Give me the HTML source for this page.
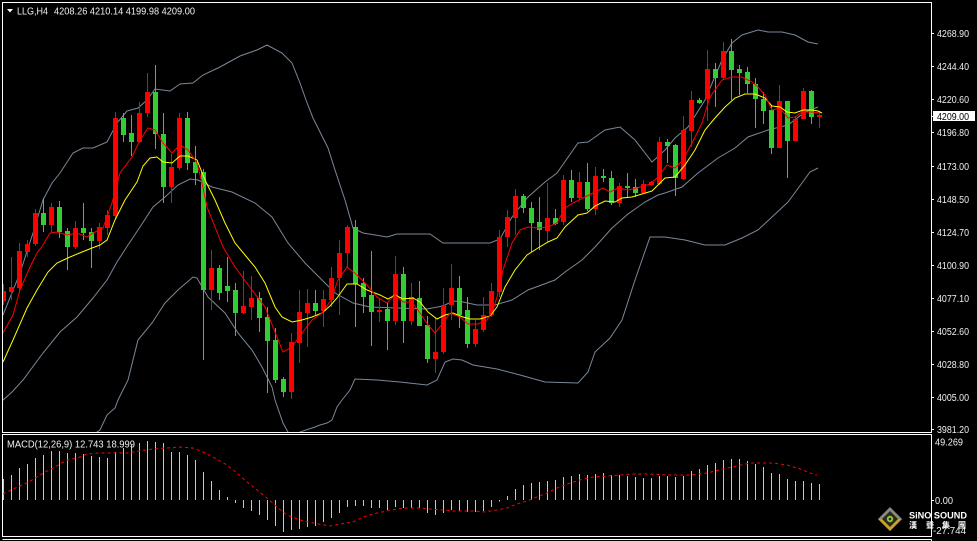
<!DOCTYPE html>
<html><head><meta charset="utf-8"><style>
html,body{margin:0;padding:0;background:#000;}
svg{display:block;}
text{font-family:"Liberation Sans","Noto Sans CJK SC",sans-serif;}
</style></head><body>
<svg width="977" height="541" viewBox="0 0 977 541" xmlns="http://www.w3.org/2000/svg">
<rect x="0" y="0" width="977" height="541" fill="#000"/>
<defs>
<clipPath id="cm"><rect x="3" y="3" width="928" height="429"/></clipPath>
<clipPath id="cd"><rect x="3" y="435" width="928" height="101"/></clipPath>
</defs>
<g clip-path="url(#cm)">
<!-- Bollinger bands -->
<g fill="none" stroke="#7a8899" stroke-width="1">
<polyline points="3,315 20,273 33,233 43,200 52,183 60,173 73,153 83,148 93,148 107,142 117,123 127,111 138,108 147,100 155,89 170,91 180,84 193,83 203,75 220,67 240,56 257,50 267,45 282,53 292,63 300,83 306,100 313,118 320,132 328,148 335,170 345,200 353,228 363,233 387,237 397,234 430,234 443,243 490,243 500,239 512,217 528,197 545,182 557,173 578,143 588,142 605,130 620,127 635,140 652,162 665,150 675,138 688,127 705,100 722,60 732,43 742,35 758,30 768,32 782,32 795,35 808,42 818,44"/>
<polyline points="2,401 12,392 23,380 43,353 60,332 77,317 93,298 107,280 117,262 128,245 140,227 153,207 165,197 178,185 190,179 198,180 212,187 232,192 255,203 272,217 288,243 305,263 322,280 335,293 353,303 370,307 397,308 427,309 443,306 453,301 463,302 477,305 495,305 512,300 528,290 555,280 565,272 582,260 595,247 612,228 628,214 645,202 658,195 665,193 682,187 698,173 718,158 735,148 748,137 768,130 788,125 805,112 818,107"/>
<polyline points="88,450 97,432 100,430 107,415 115,408 118,400 128,380 138,340 152,323 165,303 178,290 193,277 197,278 208,297 225,313 238,333 252,350 262,367 272,387 275,400 283,423 288,432 294,442 300,432 315,427 320,425 327,423 332,420 337,407 342,400 350,390 355,379 377,380 400,382 427,385 437,380 445,362 453,359 462,360 473,365 497,369 520,375 545,382 578,383 588,372 595,352 610,338 622,320 635,280 650,237 665,237 685,240 705,245 725,245 742,238 758,230 772,217 788,202 802,183 810,172 818,168"/>
</g>
<!-- candles red -->
<path fill="none" stroke="#ff0000" stroke-width="1" d="M3.5 284V305M11.5 257V300M19.5 243V293M27.5 240V257M35.5 209V246M51.5 203V232M75.5 221V249M99.5 223V249M107.5 210V235M115.5 112V220M139.5 102V143M147.5 73V117M171.5 154V203M179.5 113V170M211.5 250V310M243.5 271V314M251.5 276V320M291.5 333V399M299.5 290V363M307.5 289V347M323.5 290V327M331.5 267V307M339.5 240V315M347.5 225V268M379.5 298V322M395.5 256V325M411.5 283V325M435.5 318V373M443.5 288V354M451.5 264V320M475.5 320V347M483.5 297V332M491.5 283V317M499.5 230V297M507.5 210V247M515.5 189V235M547.5 183V242M563.5 175V225M579.5 172V200M595.5 167V215M619.5 183V207M643.5 180V194M651.5 181V186M659.5 137V185M683.5 116V180M691.5 91V147M707.5 50V121M723.5 42V80M779.5 85V148M795.5 117V141M803.5 88V119M819.5 113V128"/>
<path fill="#ff0000" d="M1 291h5v10h-5zM9 287h5v5h-5zM17 251h5v37h-5zM25 244h5v8h-5zM33 213h5v31h-5zM49 207h5v18h-5zM73 228h5v19h-5zM97 227h5v14h-5zM105 215h5v13h-5zM113 118h5v98h-5zM137 113h5v29h-5zM145 92h5v21h-5zM169 167h5v20h-5zM177 118h5v50h-5zM209 268h5v22h-5zM241 306h5v7h-5zM249 298h5v9h-5zM289 342h5v50h-5zM297 312h5v31h-5zM305 303h5v10h-5zM321 299h5v12h-5zM329 278h5v22h-5zM337 253h5v25h-5zM345 227h5v26h-5zM377 310h5v2h-5zM393 274h5v47h-5zM409 297h5v24h-5zM433 352h5v7h-5zM441 305h5v47h-5zM449 288h5v17h-5zM473 329h5v15h-5zM481 315h5v15h-5zM489 291h5v24h-5zM497 237h5v55h-5zM505 217h5v20h-5zM513 196h5v22h-5zM545 218h5v13h-5zM561 180h5v42h-5zM577 182h5v16h-5zM593 176h5v33h-5zM617 186h5v17h-5zM641 184h5v9h-5zM649 182h5v3h-5zM657 142h5v42h-5zM681 130h5v49h-5zM689 100h5v31h-5zM705 69h5v30h-5zM721 51h5v27h-5zM777 101h5v47h-5zM793 119h5v22h-5zM801 91h5v28h-5zM817 115h5v2h-5z"/>
<!-- candles green -->
<path fill="none" stroke="#32cd32" stroke-width="1" d="M43.5 198V232M59.5 201V238M67.5 228V270M83.5 203V240M91.5 228V268M123.5 113V142M131.5 115V156M155.5 65V149M163.5 113V203M187.5 112V170M195.5 146V185M203.5 169V360M219.5 265V300M227.5 257V302M235.5 283V336M259.5 292V332M267.5 307V393M275.5 328V383M283.5 377V397M315.5 290V315M355.5 220V327M363.5 278V313M371.5 251V346M387.5 303V350M403.5 267V343M419.5 281V326M427.5 316V363M459.5 276V328M467.5 297V348M523.5 194V213M531.5 202V252M539.5 197V250M555.5 209V225M571.5 170V202M587.5 163V211M603.5 169V182M611.5 171V205M627.5 173V198M635.5 179V197M667.5 139V163M675.5 144V196M699.5 98V104M715.5 63V107M731.5 39V100M739.5 65V95M747.5 67V93M755.5 78V128M763.5 92V124M771.5 105V154M787.5 101V178M811.5 90V124"/>
<path fill="#32cd32" d="M41 213h5v12h-5zM57 207h5v25h-5zM65 231h5v16h-5zM81 228h5v5h-5zM89 232h5v9h-5zM121 118h5v17h-5zM129 133h5v9h-5zM153 92h5v42h-5zM161 134h5v53h-5zM185 118h5v45h-5zM193 162h5v11h-5zM201 172h5v118h-5zM217 268h5v25h-5zM225 286h5v5h-5zM233 290h5v23h-5zM257 298h5v20h-5zM265 317h5v24h-5zM273 340h5v40h-5zM281 379h5v13h-5zM313 303h5v8h-5zM353 227h5v57h-5zM361 283h5v14h-5zM369 295h5v17h-5zM385 309h5v12h-5zM401 274h5v47h-5zM417 298h5v28h-5zM425 325h5v34h-5zM457 288h5v27h-5zM465 310h5v34h-5zM521 196h5v12h-5zM529 208h5v15h-5zM537 222h5v8h-5zM553 218h5v6h-5zM569 180h5v18h-5zM585 182h5v27h-5zM601 176h5v2h-5zM609 178h5v25h-5zM625 186h5v2h-5zM633 187h5v6h-5zM665 142h5v4h-5zM673 145h5v33h-5zM697 100h5v3h-5zM713 69h5v9h-5zM729 51h5v19h-5zM737 69h5v4h-5zM745 72h5v12h-5zM753 84h5v15h-5zM761 99h5v12h-5zM769 110h5v38h-5zM785 101h5v40h-5zM809 91h5v26h-5z"/>
<!-- moving averages -->
<polyline fill="none" stroke="#ffff00" stroke-width="1" points="3,362 13,340 27,308 37,290 48,272 57,263 70,257 82,252 92,248 100,245 107,240 115,220 125,200 137,182 143,166 150,158 157,157 163,162 172,163 180,156 188,156 197,160 205,180 215,200 225,223 235,243 245,255 255,267 265,283 275,307 282,317 292,322 302,320 312,317 322,313 330,306 337,298 347,284 357,284 367,290 380,295 388,299 395,295 403,299 413,298 420,302 428,312 437,319 445,315 453,313 463,317 470,319 480,319 490,316 497,307 505,287 515,270 527,255 538,248 548,242 557,238 565,227 578,215 587,213 595,206 605,201 615,202 622,198 632,197 642,194 652,191 658,185 665,178 675,177 685,165 695,150 705,130 715,118 725,107 735,98 745,94 755,94 765,98 772,106 780,107 787,112 795,113 803,110 812,110 818,111 822,113"/>
<polyline fill="none" stroke="#ff0000" stroke-width="1" points="3,333 13,315 20,290 30,267 37,253 43,245 50,233 57,232 67,235 77,233 87,237 93,233 103,228 112,203 120,173 132,157 140,140 148,128 155,130 163,143 172,153 180,145 188,150 197,163 202,183 207,207 215,227 223,247 235,267 252,290 265,307 273,327 283,352 292,347 302,333 312,320 322,313 331,300 338,280 347,267 357,275 367,285 377,297 387,303 395,295 403,302 412,302 420,313 428,325 435,333 443,323 450,313 460,317 468,324 478,324 487,320 493,310 497,297 503,270 512,243 520,230 528,227 538,228 548,227 557,223 565,208 573,203 583,198 595,192 603,188 610,192 618,188 628,190 637,188 647,185 650,184 657,178 667,165 675,168 683,160 692,143 702,123 710,97 722,80 732,77 742,77 752,82 758,87 765,95 772,110 780,108 788,118 795,117 802,112 812,112 820,113"/>
</g>
<!-- MACD panel -->
<g clip-path="url(#cd)">
<path fill="none" stroke="#c8c8c8" stroke-width="1" d="M3.5 479V500M11.5 475V500M19.5 468V500M27.5 464V500M35.5 458V500M43.5 455V500M51.5 451V500M59.5 451V500M67.5 453V500M75.5 453V500M83.5 454V500M91.5 456V500M99.5 457V500M107.5 458V500M115.5 452V500M123.5 448V500M131.5 445V500M139.5 443V500M147.5 441V500M155.5 442V500M163.5 443V500M171.5 452V500M179.5 452V500M187.5 455V500M195.5 460V500M203.5 472V500M211.5 481V500M219.5 490V500M227.5 497V500M235.5 500V503M243.5 500V508M251.5 500V511M259.5 500V515M267.5 500V520M275.5 500V526M283.5 500V532M291.5 500V530M299.5 500V529M307.5 500V527M315.5 500V526M323.5 500V522M331.5 500V518M339.5 500V513M347.5 500V507M355.5 500V506M363.5 500V506M371.5 500V508M379.5 500V508M387.5 500V510M395.5 500V507M403.5 500V508M411.5 500V508M419.5 500V508M427.5 500V513M435.5 500V515M443.5 500V513M451.5 500V510M459.5 500V511M467.5 500V512M475.5 500V512M483.5 500V511M491.5 500V507M499.5 500V501.5M507.5 496V500M515.5 489V500M523.5 485V500M531.5 483V500M539.5 482V500M547.5 481V500M555.5 480V500M563.5 477V500M571.5 476V500M579.5 474V500M587.5 475V500M595.5 474V500M603.5 473V500M611.5 475V500M619.5 475V500M627.5 476V500M635.5 477V500M643.5 478V500M651.5 478V500M659.5 476V500M667.5 476V500M675.5 477V500M683.5 476V500M691.5 471V500M699.5 469V500M707.5 465V500M715.5 463V500M723.5 460V500M731.5 459V500M739.5 459V500M747.5 461V500M755.5 464V500M763.5 467V500M771.5 473V500M779.5 474V500M787.5 479V500M795.5 481V500M803.5 481V500M811.5 483V500M819.5 484V500"/>
<polyline fill="none" stroke="#ff0000" stroke-width="1" stroke-dasharray="3 3" points="3,494 13,489 27,483 37,477 47,471 53,468 67,460 77,458 87,454 100,453 113,453 127,453 140,451 153,449 167,448 180,447 193,448 203,452 213,457 227,465 237,473 247,482 257,490 267,498 277,507 287,515 300,520 313,523 330,526 340,524 353,522 363,517 377,513 387,511 397,509 407,508 420,508 430,509 443,510 453,511 473,511 485,512 497,510 507,508 517,504 527,501 537,497 547,493 557,488 567,484 580,480 593,477 607,476 620,475 633,474 650,474 667,475 690,475 707,473 723,469 737,466 750,463 773,463 787,465 800,469 813,474 817,475"/>
</g>
<!-- borders -->
<g stroke="#ffffff" stroke-width="1" fill="none">
<path d="M2.5 2.5H931.5V432.5H2.5Z"/>
<path d="M2.5 434.5H931.5V536.5H2.5Z"/>
<path d="M2.5 539.5H931.5"/>
<path d="M931.5 539.5V541"/>
<path d="M931 33.5h3M931 66.5h3M931 99.5h3M931 132.5h3M931 166.5h3M931 199.5h3M931 232.5h3M931 265.5h3M931 298.5h3M931 331.5h3M931 364.5h3M931 397.5h3M931 429.5h3M931 500.5h3M931 116.5h3"/>
</g>
<!-- header -->
<polygon points="7,9 13,9 10,12.5" fill="#ffffff"/>
<text x="17" y="14.5" font-size="10" fill="#f0f0f0" textLength="31" lengthAdjust="spacingAndGlyphs">LLG,H4</text>
<text x="54" y="14.5" font-size="10" fill="#f0f0f0" textLength="141" lengthAdjust="spacingAndGlyphs">4208.26 4210.14 4199.98 4209.00</text>
<text x="7" y="447.5" font-size="10.5" fill="#f0f0f0" textLength="128" lengthAdjust="spacingAndGlyphs">MACD(12,26,9) 12.743 18.999</text>
<!-- price axis -->
<g font-size="10" fill="#f0f0f0">
<text x="937" y="37.2" textLength="32" lengthAdjust="spacingAndGlyphs">4268.90</text>
<text x="937" y="70.2" textLength="32" lengthAdjust="spacingAndGlyphs">4244.40</text>
<text x="937" y="103.2" textLength="32" lengthAdjust="spacingAndGlyphs">4220.60</text>
<text x="937" y="136.2" textLength="32" lengthAdjust="spacingAndGlyphs">4196.80</text>
<text x="937" y="170.2" textLength="32" lengthAdjust="spacingAndGlyphs">4173.00</text>
<text x="937" y="203.2" textLength="32" lengthAdjust="spacingAndGlyphs">4148.50</text>
<text x="937" y="236.2" textLength="32" lengthAdjust="spacingAndGlyphs">4124.70</text>
<text x="937" y="269.2" textLength="32" lengthAdjust="spacingAndGlyphs">4100.90</text>
<text x="937" y="302.2" textLength="32" lengthAdjust="spacingAndGlyphs">4077.10</text>
<text x="937" y="335.2" textLength="32" lengthAdjust="spacingAndGlyphs">4052.60</text>
<text x="937" y="368.2" textLength="32" lengthAdjust="spacingAndGlyphs">4028.80</text>
<text x="937" y="401.2" textLength="32" lengthAdjust="spacingAndGlyphs">4005.00</text>
<text x="937" y="433.2" textLength="32" lengthAdjust="spacingAndGlyphs">3981.20</text>
<text x="935" y="445.5" textLength="28" lengthAdjust="spacingAndGlyphs">49.269</text>
<text x="935" y="503.8" textLength="18" lengthAdjust="spacingAndGlyphs">0.00</text>
<text x="933" y="534" textLength="33" lengthAdjust="spacingAndGlyphs">-27.744</text>
</g>
<rect x="933" y="111" width="42" height="10" fill="#ffffff"/>
<text x="937" y="120" font-size="10" fill="#000" textLength="32" lengthAdjust="spacingAndGlyphs">4209.00</text>
<!-- logo -->
<polygon points="890,507 902,519 890,531 878,519" fill="#8a8a80"/>
<polygon points="878,519 902,519 890,531" fill="#c9a227"/>
<polygon points="890,511 898,519 890,527 882,519" fill="#2a2a1a"/>
<circle cx="890" cy="519" r="3.2" fill="#8dc63f"/>
<circle cx="890" cy="519" r="1.3" fill="#2a2a1a"/>
<text x="909" y="518.5" font-size="9.5" font-weight="bold" fill="#ffffff" textLength="58" lengthAdjust="spacingAndGlyphs">SiNO SOUND</text>
<g font-size="8" font-weight="bold" fill="#ffffff">
<text x="909" y="528">漢</text>
<text x="926" y="528">聲</text>
<text x="942" y="528">集</text>
<text x="958" y="528">團</text>
</g>
</svg>
</body></html>
